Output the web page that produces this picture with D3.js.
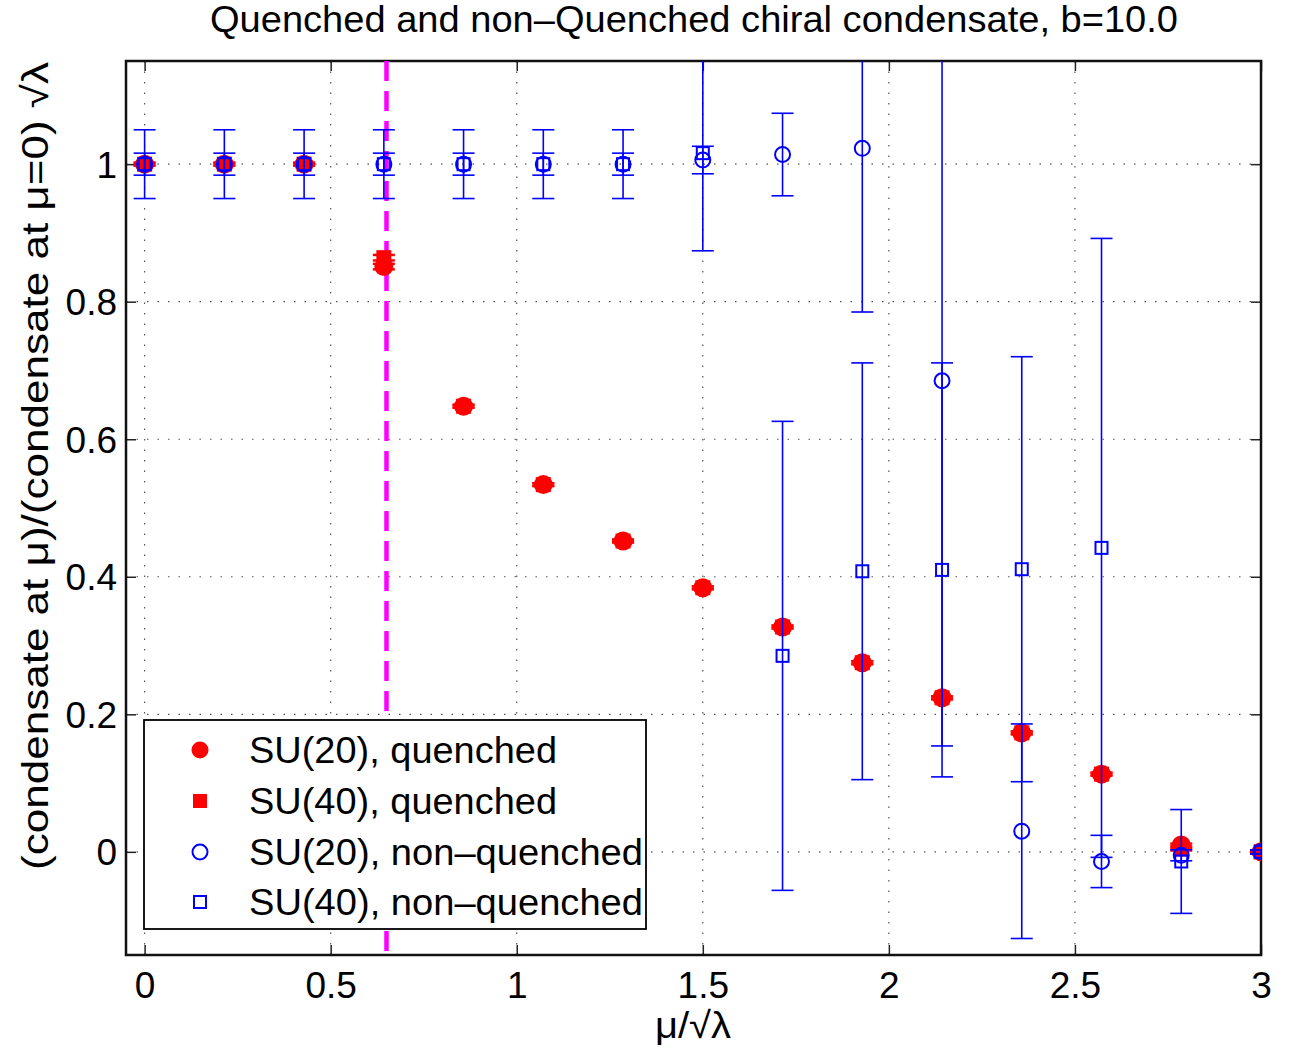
<!DOCTYPE html>
<html>
<head>
<meta charset="utf-8">
<script src="https://cdn.jsdelivr.net/npm/d3@7"></script>
<style>
  body { margin: 0; background: #fff; }
  svg { font-family: "Liberation Sans", Arial, sans-serif; }
</style>
</head>
<body>
<svg id="chart" width="1289" height="1049"></svg>
<script>
// valores
var mu = [0, 0.2143, 0.4286, 0.6429, 0.8571, 1.0714, 1.2857, 1.5, 1.7143, 1.9286, 2.1429, 2.3571, 2.5714, 2.7857, 3.0];

var su20q     = [1, 1, 1, 0.851, 0.648, 0.534, 0.452, 0.384, 0.327, 0.275, 0.224, 0.173, 0.113, 0.010, 0];
var su20qErr  = [0.002, 0.002, 0.002, 0.004, 0.002, 0.002, 0.002, 0.002, 0.002, 0.002, 0.002, 0.002, 0.002, 0.002, 0.002];
var su40q     = [1, 1, 1, 0.864, 0.648, 0.534, 0.452, 0.384, 0.327, 0.275, 0.224, 0.173, 0.113, 0.004, 0];
var su40qErr  = [0.002, 0.002, 0.002, 0.004, 0.002, 0.002, 0.002, 0.002, 0.002, 0.002, 0.002, 0.002, 0.002, 0.002, 0.002];

var su20nq    = [1, 1, 1, 1, 1, 1, 1, 1.006, 1.014, 1.023, 0.685, 0.030, -0.014, -0.005, 0];
var su20nqErr = [0.05, 0.05, 0.05, 0.05, 0.05, 0.05, 0.05, 0.02, 0.06, 0.238, 0.531, 0.156, 0.038, 0.008, 0.003];
var su40nq    = [1, 1, 1, 1, 1, 1, 1, 1.016, null, 0.408, 0.410, 0.411, 0.442, -0.014, 0];
var su40nqErr = [0.016, 0.016, 0.016, 0.016, 0.016, 0.016, 0.016, 0.142, null, 0.303, 0.301, 0.309, 0.450, 0.0755, 0.003];
// SU(40) non-quenched em mu=1.714
var su40nqExtraX = [1.7143], su40nqExtra = [0.285], su40nqExtraErr = [0.341];

var xTicks = [0, 0.5, 1, 1.5, 2, 2.5, 3];
var yTicks = [0, 0.2, 0.4, 0.6, 0.8, 1];
var muCritical = 0.65;

var legendLabels = ["SU(20), quenched", "SU(40), quenched", "SU(20), non\u2013quenched", "SU(40), non\u2013quenched"];
var legendWidths = [308, 308, 394, 394];

// margens / area do grafico
var plot = {left: 126, right: 1261, top: 61, bottom: 955};

var svg = d3.select("#chart");

var x = d3.scaleLinear().domain([-0.05, 3]).range([plot.left, plot.right]);
var y = d3.scaleLinear().domain([-0.15, 1.15]).range([plot.bottom, plot.top]);

// clip
svg.append("clipPath").attr("id", "clip")
  .append("rect")
  .attr("x", plot.left).attr("y", plot.top)
  .attr("width", plot.right - plot.left).attr("height", plot.bottom - plot.top);

// grade pontilhada
var grid = svg.append("g");
grid.selectAll(".gx").data(xTicks).enter().append("line")
  .attr("x1", d => x(d)).attr("x2", d => x(d))
  .attr("y1", plot.top).attr("y2", plot.bottom)
  .attr("stroke", "#555").attr("stroke-width", 1.2).attr("stroke-dasharray", "1.5,9");
grid.selectAll(".gy").data(yTicks).enter().append("line")
  .attr("x1", plot.left).attr("x2", plot.right)
  .attr("y1", d => y(d)).attr("y2", d => y(d))
  .attr("stroke", "#555").attr("stroke-width", 1.2).attr("stroke-dasharray", "1.5,9");

// eixos
var xAxis = d3.axisBottom(x).tickValues(xTicks).tickSizeInner(-10).tickSizeOuter(0).tickPadding(17)
  .tickFormat(d3.format("~g"));
var yAxis = d3.axisLeft(y).tickValues(yTicks).tickSizeInner(-10).tickSizeOuter(0).tickPadding(9)
  .tickFormat(d3.format("~g"));
var xAxisTop = d3.axisTop(x).tickValues(xTicks).tickSizeInner(-10).tickSizeOuter(0).tickFormat("");
var yAxisRight = d3.axisRight(y).tickValues(yTicks).tickSizeInner(-10).tickSizeOuter(0).tickFormat("");

var gx = svg.append("g").attr("transform", "translate(0," + plot.bottom + ")").call(xAxis);
var gy = svg.append("g").attr("transform", "translate(" + plot.left + ",0)").call(yAxis);
svg.append("g").attr("transform", "translate(0," + plot.top + ")").call(xAxisTop);
svg.append("g").attr("transform", "translate(" + plot.right + ",0)").call(yAxisRight);

svg.selectAll(".domain").remove();
svg.selectAll(".tick line").attr("stroke", "#222").attr("stroke-width", 1.5);
gx.selectAll("text").attr("font-size", 37).attr("fill", "#000").attr("font-family", "Liberation Sans, Arial");
gy.selectAll("text").attr("font-size", 37).attr("fill", "#000").attr("font-family", "Liberation Sans, Arial").attr("dy", "0.35em");

// caixa
svg.append("rect")
  .attr("x", plot.left).attr("y", plot.top)
  .attr("width", plot.right - plot.left).attr("height", plot.bottom - plot.top)
  .attr("fill", "none").attr("stroke", "#111").attr("stroke-width", 2.5);

var marks = svg.append("g").attr("clip-path", "url(#clip)");

// linha vertical magenta
marks.append("line")
  .attr("x1", x(muCritical)).attr("x2", x(muCritical))
  .attr("y1", plot.top).attr("y2", plot.bottom)
  .attr("stroke", "#ff00ff").attr("stroke-width", 4.5).attr("stroke-dasharray", "20,10");

var capW = 11;

function errorBars(xs, vals, errs, color, width) {
  var data = xs.map((d, i) => ({x: d, v: vals[i], e: errs[i]})).filter(d => d.v !== null);
  var g = marks.append("g").attr("stroke", color).attr("stroke-width", width).attr("fill", "none");
  g.selectAll(".v").data(data).enter().append("line")
    .attr("x1", d => x(d.x)).attr("x2", d => x(d.x))
    .attr("y1", d => y(d.v - d.e)).attr("y2", d => y(d.v + d.e));
  g.selectAll(".t").data(data).enter().append("line")
    .attr("x1", d => x(d.x) - capW).attr("x2", d => x(d.x) + capW)
    .attr("y1", d => y(d.v + d.e)).attr("y2", d => y(d.v + d.e));
  g.selectAll(".b").data(data).enter().append("line")
    .attr("x1", d => x(d.x) - capW).attr("x2", d => x(d.x) + capW)
    .attr("y1", d => y(d.v - d.e)).attr("y2", d => y(d.v - d.e));
  return data;
}

function circles(data, r, fill, stroke) {
  marks.append("g").selectAll("circle").data(data).enter().append("circle")
    .attr("cx", d => x(d.x)).attr("cy", d => y(d.v)).attr("r", r)
    .attr("fill", fill).attr("stroke", stroke).attr("stroke-width", 2);
}
function squares(data, s, fill, stroke) {
  marks.append("g").selectAll("rect").data(data).enter().append("rect")
    .attr("x", d => x(d.x) - s / 2).attr("y", d => y(d.v) - s / 2)
    .attr("width", s).attr("height", s)
    .attr("fill", fill).attr("stroke", stroke).attr("stroke-width", 2);
}

// quenched (vermelho)
var dq40 = errorBars(mu, su40q, su40qErr, "#ff0000", 2.5);
squares(dq40, 13, "#ff0000", "#ff0000");
var dq20 = errorBars(mu, su20q, su20qErr, "#ff0000", 2.5);
circles(dq20, 8.5, "#ff0000", "#ff0000");

// non-quenched (azul)
var dn20 = errorBars(mu, su20nq, su20nqErr, "#0000ff", 1.6);
circles(dn20, 7.5, "none", "#0000ff");
var dn40 = errorBars(mu, su40nq, su40nqErr, "#0000ff", 1.6);
var dn40b = errorBars(su40nqExtraX, su40nqExtra, su40nqExtraErr, "#0000ff", 1.6);
squares(dn40.concat(dn40b), 12, "none", "#0000ff");

// legenda
var leg = svg.append("g");
leg.append("rect").attr("x", 144).attr("y", 720).attr("width", 502).attr("height", 209)
  .attr("fill", "#fff").attr("stroke", "#000").attr("stroke-width", 1.8);
var rowY = [750, 801, 852, 902];
leg.selectAll("text").data(legendLabels).enter().append("text")
  .attr("x", 249).attr("y", (d, i) => rowY[i]).attr("dy", "0.35em")
  .attr("font-size", 37).attr("fill", "#000")
  .attr("textLength", (d, i) => legendWidths[i]).attr("lengthAdjust", "spacingAndGlyphs")
  .text(d => d);
leg.append("circle").attr("cx", 200).attr("cy", rowY[0]).attr("r", 8.5).attr("fill", "#ff0000");
leg.append("rect").attr("x", 193).attr("y", rowY[1] - 7).attr("width", 14).attr("height", 14).attr("fill", "#ff0000");
leg.append("circle").attr("cx", 200).attr("cy", rowY[2]).attr("r", 7.5).attr("fill", "none").attr("stroke", "#0000ff").attr("stroke-width", 2);
leg.append("rect").attr("x", 194).attr("y", rowY[3] - 6).attr("width", 12).attr("height", 12).attr("fill", "none").attr("stroke", "#0000ff").attr("stroke-width", 2);

// titulo e rotulos
svg.append("text").attr("x", 694).attr("y", 19).attr("dy", "0.35em").attr("text-anchor", "middle")
  .attr("font-size", 37).attr("textLength", 968).attr("lengthAdjust", "spacingAndGlyphs")
  .text("Quenched and non\u2013Quenched chiral condensate, b=10.0");

svg.append("text").attr("x", 693).attr("y", 1025).attr("dy", "0.35em").attr("text-anchor", "middle")
  .attr("font-size", 37).attr("textLength", 76).attr("lengthAdjust", "spacingAndGlyphs")
  .text("\u03bc/\u221a\u03bb");

svg.append("text").attr("transform", "translate(35,466) rotate(-90)").attr("dy", "0.35em")
  .attr("text-anchor", "middle").attr("font-size", 37)
  .attr("textLength", 808).attr("lengthAdjust", "spacingAndGlyphs")
  .text("(condensate at  \u03bc)/(condensate at  \u03bc=0)  \u221a\u03bb");
</script>
</body>
</html>
